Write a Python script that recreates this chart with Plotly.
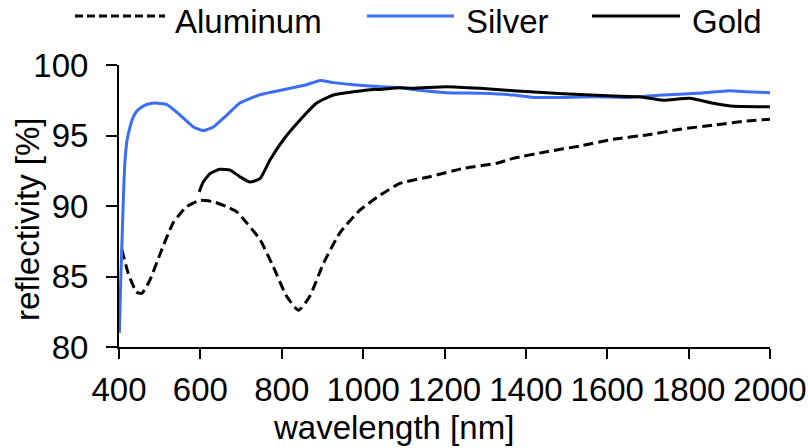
import plotly.graph_objects as go

# ---- data ----
silver_wl = [401, 404, 407, 411, 415, 420, 427, 435, 443, 455, 468, 488, 517, 550, 583, 607, 632, 665, 697, 747,
             812, 861, 894, 927, 976, 1025, 1041, 1090, 1123, 1205, 1287, 1369, 1418, 1491, 1574, 1656, 1737, 1820,
             1902, 1943, 2000]
silver_r = [81.0, 84.5, 87.1, 90.8, 93.3, 94.7, 95.6, 96.3, 96.7, 97.0, 97.2, 97.3, 97.2, 96.45, 95.6, 95.35, 95.6,
            96.45, 97.3, 97.9, 98.3, 98.6, 98.9, 98.75, 98.6, 98.5, 98.46, 98.4, 98.27, 98.04, 97.99, 97.87, 97.7,
            97.7, 97.75, 97.7, 97.87, 97.99, 98.18, 98.1, 98.04]

gold_wl = [597, 607, 624, 648, 673, 697, 722, 747, 771, 804, 845, 886, 927, 976, 1025, 1041, 1090, 1123, 1205,
           1287, 1369, 1451, 1533, 1615, 1680, 1737, 1803, 1861, 1902, 2000]
gold_r = [91.0, 91.7, 92.3, 92.6, 92.55, 92.08, 91.7, 91.96, 93.26, 94.7, 96.1, 97.3, 97.87, 98.1, 98.27, 98.27,
          98.39, 98.35, 98.46, 98.35, 98.18, 98.04, 97.9, 97.8, 97.75, 97.5, 97.64, 97.28, 97.1, 97.04]

alu_wl = [407, 423, 443, 456, 476, 501, 533, 566, 599, 632, 665, 689, 714, 747, 779, 812, 841, 869, 902, 943,
          992, 1041, 1090, 1164, 1246, 1328, 1369, 1451, 1533, 1615, 1697, 1779, 1861, 1943, 2000]
alu_r = [86.9, 85.2, 83.9, 83.8, 84.75, 86.6, 88.8, 89.95, 90.4, 90.3, 89.95, 89.6, 88.8, 87.6, 85.7, 83.6, 82.6,
         83.6, 85.9, 88.1, 89.7, 90.75, 91.6, 92.08, 92.67, 93.03, 93.38, 93.85, 94.26, 94.73, 95.04, 95.44,
         95.74, 96.03, 96.15]

x_ticks = [400, 600, 800, 1000, 1200, 1400, 1600, 1800, 2000]
y_ticks = [80, 85, 90, 95, 100]

BLUE = "#3b6ef5"
FONT = "Liberation Sans"
FS = 33

W, H = 808, 448
L, T, R, B = 119, 65, 38, 101
pw, ph = W - L - R, H - T - B

fig = go.Figure()
fig.add_trace(go.Scatter(x=alu_wl, y=alu_r, mode="lines", name="Aluminum",
                         line=dict(color="black", width=3, dash="10px,5px", shape="spline", smoothing=0.5),
                         showlegend=False))
fig.add_trace(go.Scatter(x=silver_wl, y=silver_r, mode="lines", name="Silver",
                         line=dict(color=BLUE, width=3, shape="spline", smoothing=0.4), showlegend=False))
fig.add_trace(go.Scatter(x=gold_wl, y=gold_r, mode="lines", name="Gold",
                         line=dict(color="black", width=3, shape="spline", smoothing=0.5), showlegend=False))


def px2x(p):  # pixel -> paper x
    return (p - L) / pw


def px2y(p):  # pixel -> paper y
    return (H - B - p) / ph


# manual legend (line samples + labels)
legend_items = [("Aluminum", 75, 165, 173, dict(color="black", width=3, dash="8px,4px")),
                ("Silver", 367, 454, 464, dict(color=BLUE, width=3)),
                ("Gold", 592, 680, 690, dict(color="black", width=3))]
for name, x0, x1, xt, ln in legend_items:
    fig.add_shape(type="line", xref="paper", yref="paper", x0=px2x(x0), x1=px2x(x1),
                  y0=px2y(16), y1=px2y(16), line=ln)
    fig.add_annotation(text=name, xref="paper", yref="paper", x=px2x(xt), y=px2y(22),
                       xanchor="left", yanchor="middle", showarrow=False,
                       font=dict(family=FONT, size=FS, color="black"))

# axis titles
fig.add_annotation(text="wavelength [nm]", xref="paper", yref="paper", x=px2x(393), y=px2y(427),
                   xanchor="center", yanchor="middle", showarrow=False,
                   font=dict(family=FONT, size=FS, color="black"))
fig.add_annotation(text="reflectivity [%]", xref="paper", yref="paper", x=px2x(27), y=px2y(219),
                   xanchor="center", yanchor="middle", showarrow=False, textangle=-90,
                   font=dict(family=FONT, size=FS, color="black"))

fig.update_layout(
    width=W, height=H, margin=dict(l=L, r=R, t=T, b=B, autoexpand=False),
    paper_bgcolor="white", plot_bgcolor="white",
    font=dict(family=FONT, size=FS, color="black"),
    xaxis=dict(range=[400, 2000], tickvals=x_ticks, ticktext=[str(v) for v in x_ticks],
               showgrid=False, zeroline=False, showline=True, linecolor="black", linewidth=2,
               ticks="outside", ticklen=10, tickwidth=2, tickcolor="black", automargin=False,
               tickfont=dict(family=FONT, size=FS, color="black"), ticklabelstandoff=2),
    yaxis=dict(range=[80, 100], tickvals=y_ticks, ticktext=[str(v) for v in y_ticks],
               showgrid=False, zeroline=False, showline=True, linecolor="black", linewidth=2,
               ticks="outside", ticklen=11, tickwidth=2, tickcolor="black", automargin=False,
               tickfont=dict(family=FONT, size=FS, color="black"), ticklabelstandoff=11),
)

# remove the default 8px page margin so the 808x448 figure fills the window exactly
fig.write_html("out.html", config={"displayModeBar": False},
               post_script="document.body.style.margin='0px';document.body.style.overflow='hidden';")
